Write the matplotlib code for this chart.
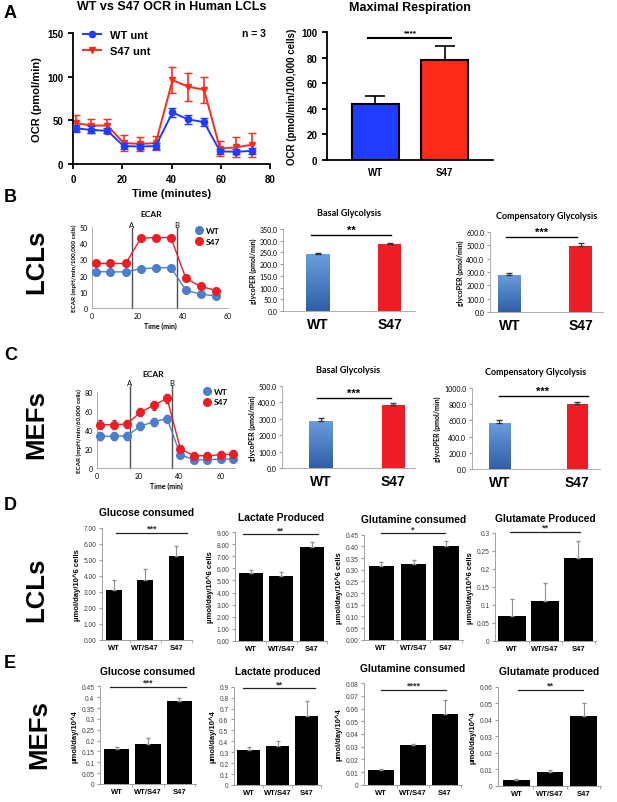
import numpy as np
import matplotlib
matplotlib.use('Agg')
import matplotlib.pyplot as plt
from matplotlib.ticker import FormatStrFormatter, FuncFormatter
from matplotlib.lines import Line2D
from matplotlib.colors import LinearSegmentedColormap

plt.rcParams['font.family'] = ['Liberation Sans', 'DejaVu Sans']

W, H = 617, 803

# ---- data ----
ocr_time = [1.1, 7.2, 14.0, 20.6, 27.4, 33.6, 40.4, 46.8, 53.2, 59.7, 66.0, 72.5]
ocr_wt = [41, 39, 38, 20.5, 20, 20.5, 59, 51, 48, 14.5, 14, 15]
ocr_wt_err = [4, 4, 3, 3, 3, 3.5, 5, 5, 5, 3, 3, 3]
ocr_s47 = [47, 44, 44, 24, 23, 24, 96, 88.5, 85, 17.6, 19, 22]
ocr_s47_err = [9.5, 8, 8, 9.5, 8, 8, 15, 16, 15, 9, 11.5, 14]

two_groups = ['WT', 'S47']
maxresp_mean = [44, 78]
maxresp_err = [6, 11]

ecar_lcl_time = [1.8, 8.0, 14.9, 21.5, 28.1, 34.8, 41.4, 47.9, 54.9]
ecar_lcl_wt = [22.5, 22.3, 22.3, 24.3, 24.7, 25.0, 11.0, 8.5, 7.5]
ecar_lcl_wt_err = [0.8, 0.8, 0.8, 0.9, 0.9, 0.9, 0.8, 0.6, 0.6]
ecar_lcl_s47 = [27.5, 27.5, 27.5, 43.0, 43.5, 43.5, 18.3, 13.3, 10.8]
ecar_lcl_s47_err = [1.0, 1.0, 1.0, 1.5, 1.5, 1.5, 1.0, 0.8, 0.8]
ecar_lcl_inject = [17.5, 37.5]

ecar_mef_time = [1.3, 8.1, 14.6, 21.1, 27.6, 34.0, 40.5, 47.0, 53.5, 60.0, 66.2]
ecar_mef_wt = [33.4, 33.4, 34.0, 44.0, 48.7, 52.0, 14.0, 8.7, 8.7, 9.4, 9.4]
ecar_mef_wt_err = [4, 4, 4, 4, 4, 4, 3.5, 3.5, 3.5, 3.5, 3.5]
ecar_mef_s47 = [45.6, 45.6, 46.3, 58.8, 66.0, 73.4, 20.0, 12.9, 12.9, 14.0, 14.6]
ecar_mef_s47_err = [4.5, 4.5, 4.5, 4.5, 4.5, 4.5, 4, 4, 4, 4, 4]
ecar_mef_inject = [15.9, 36.5]
inject_labels = ['A', 'B']

lcl_basal = [243, 285]
lcl_basal_err = [5, 6]
lcl_comp = [280, 497]
lcl_comp_err = [10, 22]
mef_basal = [288, 384]
mef_basal_err = [14, 12]
mef_comp = [568, 802]
mef_comp_err = [35, 25]

three_groups = ['WT', 'WT/S47', 'S47']
lcl_glucose = [3.1, 3.75, 5.25]
lcl_glucose_err = [0.67, 0.67, 0.65]
lcl_lactate = [5.6, 5.4, 7.8]
lcl_lactate_err = [0.3, 0.3, 0.4]
lcl_glutamine = [0.315, 0.325, 0.40]
lcl_glutamine_err = [0.018, 0.018, 0.024]
lcl_glutamate = [0.068, 0.11, 0.229]
lcl_glutamate_err = [0.048, 0.05, 0.049]
mef_glucose = [0.16, 0.185, 0.38]
mef_glucose_err = [0.012, 0.028, 0.018]
mef_lactate = [0.32, 0.36, 0.63]
mef_lactate_err = [0.025, 0.04, 0.14]
mef_glutamine = [0.0118, 0.0315, 0.0558]
mef_glutamine_err = [0.0005, 0.0007, 0.011]
mef_glutamate = [0.0034, 0.0084, 0.0424]
mef_glutamate_err = [0.0005, 0.001, 0.008]

fig = plt.figure(figsize=(W / 100, H / 100), dpi=100)


def px_axes(l, t, r, b):
    return fig.add_axes([l / W, 1 - b / H, (r - l) / W, (b - t) / H])


def ftext(x, y, s, **kw):
    fig.text(x / W, 1 - y / H, s, **kw)


# panel letters and row labels
for x, y, s in [(4, 14, 'A'), (4, 198, 'B'), (4, 356, 'C'), (4, 506, 'D'), (4, 664, 'E')]:
    ftext(x, y, s, fontsize=13, fontweight='bold', va='center')
for x, y, s in [(36, 262, 'LCLs'), (36, 425, 'MEFs'), (36, 590, 'LCLs'), (39, 735, 'MEFs')]:
    ftext(x, y, s, fontsize=18.5, fontweight='bold', rotation=90, ha='center', va='center')

# ---- A: OCR time course ----
blue_a = '#1f3cff'
red_a = '#ff2a1a'
ax = px_axes(73, 34, 270, 165)
ax.errorbar(ocr_time, ocr_s47, yerr=ocr_s47_err, color=red_a, marker='v', ms=4.5,
            lw=1.4, capsize=3, elinewidth=1.2, zorder=2)
ax.errorbar(ocr_time, ocr_wt, yerr=ocr_wt_err, color=blue_a, marker='o', ms=4.5,
            lw=1.4, capsize=3, elinewidth=1.2, zorder=3)
ax.set_xlim(0, 80)
ax.set_ylim(0, 150)
ax.set_xticks([0, 20, 40, 60, 80])
ax.set_yticks([0, 50, 100, 150])
for s in ['top', 'right']:
    ax.spines[s].set_visible(False)
for s in ['left', 'bottom']:
    ax.spines[s].set_linewidth(1.3)
ax.tick_params(width=1.3, length=3.5, labelsize=7)
for lab in ax.get_xticklabels() + ax.get_yticklabels():
    lab.set_fontweight('bold')
ax.set_xlabel('Time (minutes)', fontsize=8, fontweight='bold', labelpad=3)
ax.set_ylabel('OCR (pmol/min)', fontsize=8, fontweight='bold', labelpad=4)
ax.set_title('WT vs S47 OCR in Human LCLs', fontsize=9, fontweight='bold', pad=17)
handles = [Line2D([], [], color=blue_a, marker='o', ms=4.5, lw=1.4),
           Line2D([], [], color=red_a, marker='v', ms=4.5, lw=1.4)]
ax.legend(handles, ['WT unt', 'S47 unt'], loc='upper left', bbox_to_anchor=(0.03, 1.06),
          frameon=False, prop={'weight': 'bold', 'size': 8}, handlelength=1.6,
          borderaxespad=0, labelspacing=0.55)
ax.text(0.98, 1.0, 'n = 3', transform=ax.transAxes, ha='right', va='center',
        fontsize=7.5, fontweight='bold')

# ---- A: maximal respiration ----
ax = px_axes(327, 33, 493, 161)
ax.bar([0, 1], maxresp_mean, width=0.69, color=[blue_a, red_a], edgecolor='black', lw=1.5)
ax.errorbar([0, 1], maxresp_mean, yerr=[[0, 0], maxresp_err], fmt='none', ecolor='black',
            capsize=7, elinewidth=1.2, capthick=1.2)
ax.set_xlim(-0.7, 1.7)
ax.set_ylim(0, 100)
ax.set_xticks([0, 1])
ax.set_xticklabels(two_groups)
ax.set_yticks(np.arange(0, 101, 20))
for s in ['top', 'right']:
    ax.spines[s].set_visible(False)
for s in ['left', 'bottom']:
    ax.spines[s].set_linewidth(1.3)
ax.tick_params(width=1.3, length=3.5, labelsize=7)
ax.tick_params(axis='x', length=0, pad=5)
for lab in ax.get_xticklabels() + ax.get_yticklabels():
    lab.set_fontweight('bold')
ax.set_ylabel('OCR (pmol/min/100,000 cells)', fontsize=7, fontweight='bold', labelpad=3)
ax.set_title('Maximal Respiration', fontsize=9, fontweight='bold', pad=16)
ax.plot([-0.1, 1.1], [95, 95], color='black', lw=1.5, clip_on=False)
ax.text(0.5, 96.5, '****', ha='center', va='bottom', fontsize=6, fontweight='bold')

# ---- B, C: ECAR time courses ----
blue_e = '#4a7fce'
red_e = '#ee1c24'
grey_ax = '#a0a0a0'
ecar_sets = [
    ((92, 228, 228, 309), ecar_lcl_time, ecar_lcl_wt, ecar_lcl_wt_err, ecar_lcl_s47,
     ecar_lcl_s47_err, ecar_lcl_inject, (0, 60), (0, 50), 10, 'ECAR (mpH/min/100,000 cells)',
     49.5, (151, 215), (0.74, 1.04)),
    ((97, 235, 393, 469), ecar_mef_time, ecar_mef_wt, ecar_mef_wt_err, ecar_mef_s47,
     ecar_mef_s47_err, ecar_mef_inject, (0, 67), (0, 80), 20, 'ECAR (mpH/min/60,000 cells)',
     86, (153, 375), (0.75, 1.1)),
]
for (l, r, t, b), tt, wt, wte, s47, s47e, inj, xl, yl, ystep, ylab, ltop, tpos, lpos in ecar_sets:
    ax = px_axes(l, t, r, b)
    ax.errorbar(tt, wt, yerr=wte, color=blue_e, marker='o', ms=5.5, lw=1.0, capsize=1.5,
                elinewidth=0.8, ecolor='#555555', zorder=3, clip_on=False)
    ax.errorbar(tt, s47, yerr=s47e, color=red_e, marker='o', ms=5.5, lw=1.0, capsize=1.5,
                elinewidth=0.8, ecolor='#555555', zorder=3, clip_on=False)
    for xi, name in zip(inj, inject_labels):
        ax.plot([xi, xi], [0, ltop], color='#505050', lw=1.0, clip_on=False, zorder=1)
        ax.text(xi, ltop, name, ha='center', va='bottom', fontsize=5.5, family='Lato')
    ax.set_xlim(*xl)
    ax.set_ylim(*yl)
    ax.set_xticks([0, 20, 40, 60])
    ax.set_yticks(np.arange(0, yl[1] + 1, ystep))
    for s in ['top', 'right']:
        ax.spines[s].set_visible(False)
    for s in ['left', 'bottom']:
        ax.spines[s].set_color(grey_ax)
        ax.spines[s].set_linewidth(0.6)
    ax.tick_params(length=0, labelsize=5, pad=3)
    for lab in ax.get_xticklabels() + ax.get_yticklabels():
        lab.set_family('Lato')
    ax.set_xlabel('Time (min)', fontsize=5, fontweight='bold', family='Lato', labelpad=2)
    ax.set_ylabel(ylab, fontsize=4.5, fontweight='bold', family='Lato', labelpad=2)
    ftext(tpos[0], tpos[1], 'ECAR', fontsize=6, fontweight='bold', family='Lato',
          ha='center', va='center')
    handles = [Line2D([], [], color=c, marker='o', ms=5.5, lw=0) for c in (blue_e, red_e)]
    ax.legend(handles, two_groups, loc='upper left', bbox_to_anchor=lpos, frameon=False,
              handlelength=0.8, handletextpad=0.4,
              prop={'family': 'Lato', 'weight': 'bold', 'size': 6},
              borderaxespad=0, labelspacing=0.45)

# ---- B, C: glycolysis bars ----
blue_grad = LinearSegmentedColormap.from_list('bluegrad', ['#2f5ea6', '#6b9ddf'])
glyco_sets = [
    ((283, 415, 230, 312), lcl_basal, lcl_basal_err, (-0.48, 1.35), 350, 50, 0.32,
     'Basal Glycolysis', 325, (-0.09, 1.02), '**'),
    ((490, 603, 233, 313), lcl_comp, lcl_comp_err, (-0.27, 1.31), 600, 100, 0.32,
     'Compensatory Glycolysis', 565, (-0.04, 0.95), '***'),
    ((282, 415, 387, 469), mef_basal, mef_basal_err, (-0.53, 1.30), 500, 100, 0.32,
     'Basal Glycolysis', 425, (-0.05, 0.97), '***'),
    ((472, 600, 389, 470), mef_comp, mef_comp_err, (-0.35, 1.29), 1000, 200, 0.27,
     'Compensatory Glycolysis', 898, (-0.01, 1.13), '***'),
]
for (l, r, t, b), vals, errs, xl, ymax, ystep, bw, title, sy, sx, stars in glyco_sets:
    ax = px_axes(l, t, r, b)
    bars = ax.bar([0, 1], vals, width=bw, color=['#4677c4', red_e])
    # WT bar gets the Excel-style vertical gradient
    wb = bars[0]
    im = ax.imshow(np.linspace(0, 1, 128).reshape(-1, 1), cmap=blue_grad, origin='lower',
                   aspect='auto', extent=[wb.get_x(), wb.get_x() + wb.get_width(), 0,
                                          wb.get_height()], zorder=wb.get_zorder() + 0.1)
    im.set_clip_path(wb)
    ax.errorbar([0, 1], vals, yerr=[[0, 0], errs], fmt='none', ecolor='#333333',
                capsize=2, elinewidth=0.8, zorder=4)
    ax.set_xlim(*xl)
    ax.set_ylim(0, ymax)
    ax.set_yticks(np.arange(0, ymax + 1, ystep))
    ax.yaxis.set_major_formatter(FormatStrFormatter('%.1f'))
    ax.set_xticks([0, 1])
    ax.set_xticklabels(two_groups)
    for s in ['top', 'right']:
        ax.spines[s].set_visible(False)
    for s in ['left', 'bottom']:
        ax.spines[s].set_color(grey_ax)
        ax.spines[s].set_linewidth(0.6)
    ax.tick_params(axis='y', length=2, color=grey_ax, labelsize=5, pad=2)
    ax.tick_params(axis='x', length=0, labelsize=10, pad=4)
    for lab in ax.get_yticklabels():
        lab.set_family('Lato')
    for lab in ax.get_xticklabels():
        lab.set_fontweight('bold')
    ax.set_ylabel('glycoPER (pmol/min)', fontsize=5, fontweight='bold', family='Lato', labelpad=2)
    ax.set_title(title, fontsize=6.5, fontweight='bold', family='Lato', pad=10)
    ax.plot(sx, [sy, sy], color='black', lw=1.0, clip_on=False)
    ax.text(np.mean(sx), sy, stars, ha='center', va='bottom', fontsize=8, fontweight='bold')

# ---- D, E: metabolite bars ----
met_sets = [
    ((102, 192, 529, 641), lcl_glucose, lcl_glucose_err, (-0.38, 2.38), 7, 1, 0.49, '%.2f',
     'Glucose consumed', 'µmol/day/10^6 cells', 6.7, (0.08, 2.35), '***'),
    ((235, 327, 533.3, 641.7), lcl_lactate, lcl_lactate_err, (-0.52, 2.5), 9, 1, 0.8, '%.2f',
     'Lactate Produced', 'µmol/day/10^6 cells', 8.85, (-0.25, 2.2), '**'),
    ((364, 463, 535.7, 640.7), lcl_glutamine, lcl_glutamine_err, (-0.54, 2.54), 0.45, 0.05, 0.8,
     '%.2f', 'Glutamine consumed', 'µmol/day/10^6 cells', 0.457, (0.0, 1.97), '*'),
    ((495, 596, 534, 641.7), lcl_glutamate, lcl_glutamate_err, (-0.51, 2.53), 0.3, 0.05, 0.85,
     None, 'Glutamate Produced', 'µmol/day/10^6 cells', 0.304, (-0.06, 2.05), '**'),
    ((100, 196, 687.3, 785), mef_glucose, mef_glucose_err, (-0.53, 2.53), 0.45, 0.05, 0.8,
     None, 'Glucose consumed', 'µmol/day/10^4', 0.447, (-0.21, 2.2), '***'),
    ((234, 321, 687.7, 786), mef_lactate, mef_lactate_err, (-0.5, 2.5), 0.9, 0.1, 0.76,
     None, 'Lactate produced', 'µmol/day/10^4', 0.885, (-0.19, 2.29), '**'),
    ((364, 462, 684.3, 785.7), mef_glutamine, mef_glutamine_err, (-0.53, 2.53), 0.08, 0.01, 0.81,
     None, 'Glutamine consumed', 'µmol/day/10^4', 0.075, (0.0, 2.03), '****'),
    ((498, 601, 687.7, 786.7), mef_glutamate, mef_glutamate_err, (-0.55, 2.52), 0.06, 0.01, 0.8,
     None, 'Glutamate produced', 'µmol/day/10^4', 0.058, (0.04, 1.99), '**'),
]
for (l, r, t, b), vals, errs, xl, ymax, ystep, bw, fmt, title, ylab, sy, sx, stars in met_sets:
    ax = px_axes(l, t, r, b)
    ax.bar([0, 1, 2], vals, width=bw, color='black')
    ax.errorbar([0, 1, 2], vals, yerr=[[0, 0, 0], errs], fmt='none', ecolor='#909090',
                capsize=1.5, elinewidth=0.8)
    ax.set_xlim(*xl)
    ax.set_ylim(0, ymax)
    ax.set_yticks(np.linspace(0, ymax, int(round(ymax / ystep)) + 1))
    if fmt:
        ax.yaxis.set_major_formatter(FormatStrFormatter(fmt))
    else:
        ax.yaxis.set_major_formatter(FuncFormatter(lambda v, p: '%g' % round(v, 4)))
    ax.set_xticks([0, 1, 2])
    ax.set_xticklabels(three_groups)
    ax.set_xticks([0.5, 1.5, 2.5], minor=True)
    for s in ['top', 'right']:
        ax.spines[s].set_visible(False)
    for s in ['left', 'bottom']:
        ax.spines[s].set_color(grey_ax)
        ax.spines[s].set_linewidth(0.7)
    ax.tick_params(axis='y', length=2, color=grey_ax, labelsize=4.8, pad=2, labelcolor='#404040')
    ax.tick_params(axis='x', which='major', length=0, labelsize=5.5, pad=3)
    ax.tick_params(axis='x', which='minor', length=2, color=grey_ax)
    for lab in ax.get_xticklabels():
        lab.set_fontweight('bold')
    ax.set_ylabel(ylab, fontsize=5.5, fontweight='bold', labelpad=2)
    ax.set_title(title, fontsize=7.4, fontweight='bold', pad=9)
    ax.plot(sx, [sy, sy], color='#222222', lw=0.9, clip_on=False)
    ax.text(np.mean(sx), sy, stars, ha='center', va='bottom', fontsize=6.5, fontweight='bold',
            color='#333333')

fig.savefig('out.png', dpi=100)
